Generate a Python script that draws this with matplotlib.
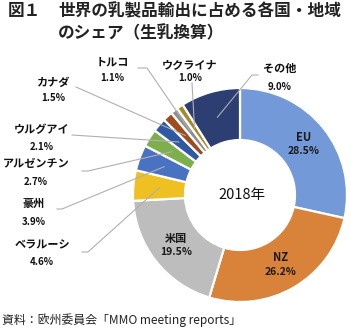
import matplotlib
matplotlib.use('Agg')
import matplotlib.pyplot as plt
import numpy as np

plt.rcParams['font.family'] = ['Noto Sans CJK JP', 'DejaVu Sans']

# data (2018, share of world dairy exports, raw-milk equivalent)
names = ['EU', 'NZ', '米国', 'ベラルーシ', '豪州', 'アルゼンチン', 'ウルグアイ',
         'カナダ', 'トルコ', 'ウクライナ', 'その他']
shares = [28.5, 26.2, 19.5, 4.6, 3.9, 2.7, 2.1, 1.5, 1.1, 1.0, 9.0]
pct_labels = ['28.5%', '26.2%', '19.5%', '4.6%', '3.9%', '2.7%', '2.1%',
              '1.5%', '1.1%', '1.0%', '9.0%']
colors = ['#7399D8', '#D9823A', '#BDBDBD', '#EEC022', '#4A72C2', '#7DB04C',
          '#2F5AA3', '#9E4B1E', '#8E8E8E', '#A78B2A', '#2C3E72']
inside = ['EU', 'NZ', '米国']

W, H = 351, 331
fig = plt.figure(figsize=(W/100, H/100), dpi=100)
ax = fig.add_axes([0, 0, 1, 1])

cx, cy = 240, H - 195
R = 107
ring = 52
wedges, _ = ax.pie(shares, colors=colors, startangle=90, counterclock=False,
                   radius=R, center=(cx, cy),
                   wedgeprops=dict(width=ring, edgecolor='white', linewidth=1.6))
ax.set_xlim(0, W)
ax.set_ylim(0, H)
ax.set_aspect('auto')
ax.axis('off')

def mid_point(w, r):
    a = np.deg2rad((w.theta1 + w.theta2) / 2)
    return cx + r*np.cos(a), cy + r*np.sin(a)

# label placement outside the ring: name x, name y, pct y, line start, elbow  (pixel coords, y down)
outer = {
    'ベラルーシ': (42, 245, 262, (82, 252), (88, 252)),
    '豪州': (34, 203, 222, (57, 209), (62, 209)),
    'アルゼンチン': (36, 163, 182, (82, 171), (88, 171)),
    'ウルグアイ': (42, 130, 147, (72, 135), None),
    'カナダ': (53, 82, 98, (76, 87), None),
    'トルコ': (112, 62, 78, (138, 68), (147, 68)),
    'ウクライナ': (190, 65, 78, (192, 83), None),
    'その他': (280, 68, 87, (258, 75), (252, 75)),
}

rmid = R - ring/2
for w, n, p in zip(wedges, names, pct_labels):
    if n in inside:
        x, y = mid_point(w, rmid)
        ax.text(x, y + 7, n, ha='center', va='center', fontsize=8, color='#1a1a1a', fontweight='bold')
        ax.text(x, y - 7, p, ha='center', va='center', fontsize=7.5, color='#1a1a1a', fontweight='bold')
    else:
        tx, ty, py, start, elbow = outer[n]
        ax.text(tx, H - ty, n, ha='center', va='center', fontsize=8, color='#111111', fontweight='bold')
        ax.text(tx, H - py, p, ha='center', va='center', fontsize=7, color='#111111', fontweight='bold')
        ex, ey = mid_point(w, rmid)
        xs = [start[0]]
        ys = [H - start[1]]
        if elbow is not None:
            xs.append(elbow[0])
            ys.append(H - elbow[1])
        xs.append(ex)
        ys.append(ey)
        ax.plot(xs, ys, color='#B0B0B0', lw=0.8, zorder=5)

ax.text(cx + 2, cy, '2018年', ha='center', va='center', fontsize=10.5, color='#111111')

# title and source
fig.text(8/W, 1 - 11/H, '図１', ha='left', va='center', fontsize=12, fontweight='bold', color='#222222')
fig.text(58/W, 1 - 11/H, '世界の乳製品輸出に占める各国・地域', ha='left', va='center',
         fontsize=12, fontweight='bold', color='#222222')
fig.text(58/W, 1 - 33/H, 'のシェア（生乳換算）', ha='left', va='center',
         fontsize=12, fontweight='bold', color='#222222')
fig.text(2/W, 1 - 320/H, '資料：欧州委員会「MMO meeting reports」', ha='left', va='center',
         fontsize=8.6, color='#222222')

fig.savefig('out.png', dpi=100)
